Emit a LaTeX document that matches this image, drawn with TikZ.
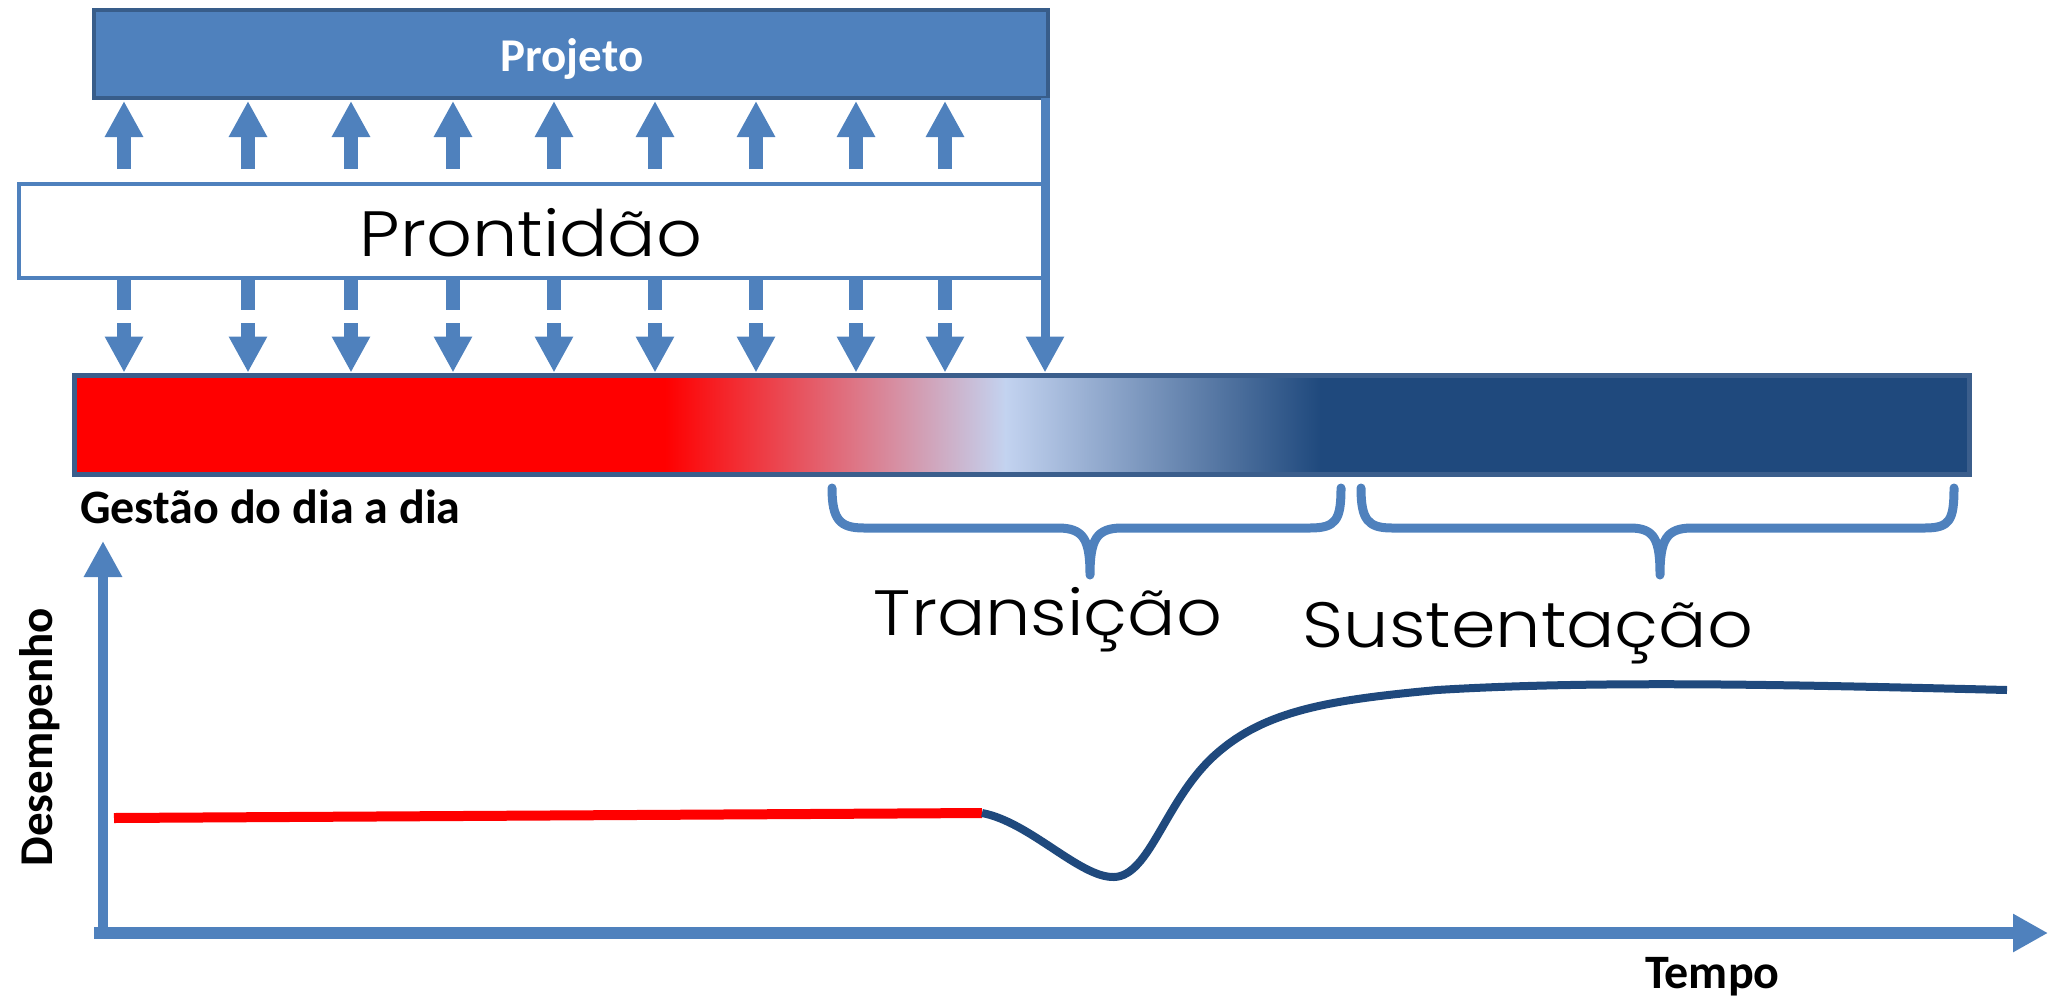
\documentclass[tikz,border=0pt]{standalone}
\usepackage{fontspec}
\setmainfont{Carlito}
\newfontfamily\thinf{Poppins Light}[FakeStretch=1.12]
\usetikzlibrary{arrows.meta}
\definecolor{obl}{HTML}{4F81BD}
\definecolor{obd}{HTML}{385D8A}
\definecolor{dkb}{HTML}{1F497D}
\definecolor{ltb}{HTML}{C3D3F0}
\definecolor{barb}{HTML}{3B5E8C}
\begin{document}
\begin{tikzpicture}[x=1pt,y=-1pt,
  tipa/.style={-{Triangle[width=36pt,length=36pt]}},
  shaft/.style={draw=obl,line width=14pt},
  thinlbl/.style={font=\thinf\fontsize{64}{64}\selectfont, inner sep=0pt, anchor=base},
  boldlbl/.style={font=\bfseries\fontsize{48}{48}\selectfont, inner sep=0pt, anchor=base west},
  brace/.style={draw=obl, line width=9pt, line cap=round, line join=round},
  boxn/.style={inner sep=0pt, outer sep=0pt, anchor=north west},
]
\useasboundingbox (0,0) rectangle (2048,999);
% boxes
\node[boxn, draw=obd, fill=obl, line width=4.5pt, minimum width=954pt, minimum height=88pt] (proj) at (94,10) {};
\node[font=\bfseries\fontsize{47}{47}\selectfont, text=white, anchor=base, inner sep=0pt] (projt) at (572,71) {Projeto};
\node[boxn, draw=obl, line width=4pt, minimum width=1024pt, minimum height=94pt] (pront) at (19,184) {};
\node[thinlbl] (prontt) at (531,256) {Prontidão};
% gradient bar
\fill[red] (74,375) rectangle (666,474);
\shade[left color=red, right color=ltb] (665,375) rectangle (1006,474);
\shade[left color=ltb, right color=dkb] (1005,375) rectangle (1321,474);
\fill[dkb] (1320,375) rectangle (1970,474);
\node[boxn, draw=barb, line width=5pt, minimum width=1895pt, minimum height=98.5pt] (bar) at (74.5,375.5) {};
% arrows
\foreach \x [count=\i] in {124,248,351,453,554,655,756,856,945}{
  \coordinate (c\i) at (\x,0);
  \draw[shaft,tipa] ([yshift=15pt]pront.north -| c\i) -- ([yshift=-3pt]proj.south -| c\i);
  \draw[shaft] ([yshift=-2pt]pront.south -| c\i) -- ([yshift=-32pt]pront.south -| c\i);
  \draw[shaft,tipa] ([yshift=-45pt]pront.south -| c\i) -- ([yshift=3pt]bar.north -| c\i);
}
\coordinate (c10) at (1045,0);
\draw[draw=obl, line width=9pt, tipa] (proj.south -| c10) -- ([yshift=3pt]bar.north -| c10);
\node[boldlbl] (gest) at (80,523) {Gestão do dia a dia};
% braces
\draw[brace] (832,488) .. controls (832,520) and (840,528) .. (864,528) -- (1058,528)
  .. controls (1084,528) and (1090,540) .. (1090,575)
  .. controls (1090,540) and (1096,528) .. (1122,528) -- (1310,528)
  .. controls (1336,528) and (1341,520) .. (1341,488);
\draw[brace] (1361,488) .. controls (1361,520) and (1368,528) .. (1392,528) -- (1630,528)
  .. controls (1655,528) and (1660,540) .. (1660,575)
  .. controls (1660,540) and (1666,528) .. (1692,528) -- (1925,528)
  .. controls (1950,528) and (1954,520) .. (1954,488);
\node[thinlbl] (trans) at (1048,635) {Transição};
\node[thinlbl] (sust) at (1528,647) {Sustentação};
% axes
\coordinate (orig) at (103,933);
\coordinate (ytop) at (103,541);
\coordinate (xl) at (94,933);
\coordinate (xr) at (2048,933);
\draw[draw=obl, line width=10pt, -{Triangle[width=36pt,length=36pt]}] (orig) -- (ytop);
\draw[draw=obl, line width=12pt, -{Triangle[width=36pt,length=35pt]}] (xl) -- (xr);
\node[boldlbl, font=\bfseries\fontsize{47}{47}\selectfont, rotate=90, anchor=base] (des) at (52,737) {Desempenho};
\node[boldlbl] (tempo) at (1645,988) {Tempo};
% performance curve
\coordinate (r0) at (114,818);
\coordinate (r1) at (982,813);
\coordinate (b1) at (2007,690);
\draw[red, line width=10pt] (r0) -- (r1);
\draw[dkb, line width=8pt] (r1) .. controls (1030,822) and (1080,878) .. (1114,877)
  .. controls (1150,876) and (1165,800) .. (1215,755)
  .. controls (1265,710) and (1330,700) .. (1437,690)
  .. controls (1600,680) and (1800,685) .. (b1);
\end{tikzpicture}
\end{document}
